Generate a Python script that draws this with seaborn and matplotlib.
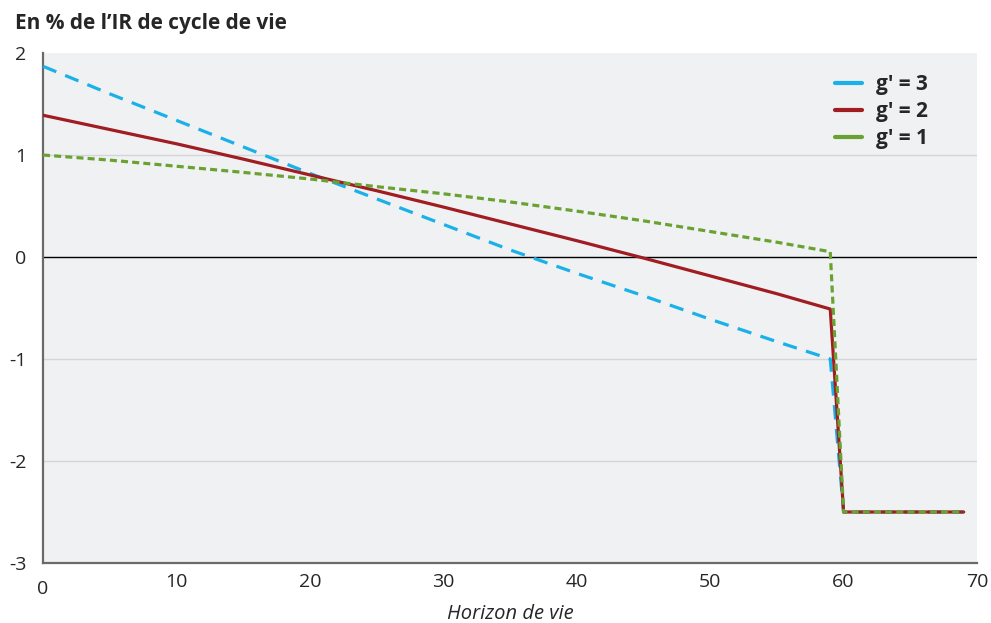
import numpy as np
import pandas as pd
import matplotlib
matplotlib.use("Agg")
import matplotlib.pyplot as plt
from matplotlib.lines import Line2D
import seaborn as sns

# valeurs
horizon = [0, 5, 10, 15, 20, 25, 30, 35, 40, 45, 50, 55, 59, 60, 69]
g3 = [1.87, 1.60, 1.34, 1.08, 0.82, 0.57, 0.32, 0.07, -0.16, -0.38, -0.61, -0.83, -1.0, -2.5, -2.5]
g2 = [1.39, 1.25, 1.11, 0.96, 0.805, 0.65, 0.49, 0.325, 0.16, -0.01, -0.185, -0.36, -0.51, -2.5, -2.5]
g1 = [1.0, 0.95, 0.89, 0.83, 0.765, 0.69, 0.62, 0.54, 0.45, 0.355, 0.25, 0.145, 0.052, -2.5, -2.5]
labels = ["g' = 3", "g' = 2", "g' = 1"]
couleurs = ["#1ab0e8", "#a01d22", "#6aa232"]

df = pd.concat([
    pd.DataFrame({"horizon": horizon, "val": v, "serie": lab})
    for v, lab in zip([g3, g2, g1], labels)
])

sns.set_style("white")
plt.rcParams["font.family"] = ["Open Sans", "DejaVu Sans"]

fig = plt.figure(figsize=(9.91, 6.23), dpi=100)
ax = fig.add_axes([0.0434, 0.0963, 0.9425, 0.8186])
ax.set_facecolor("#f0f1f3")

for y in [1, -1, -2]:
    ax.axhline(y, color="#d4d5d8", lw=1, zorder=0)
ax.axhline(0, color="black", lw=1, zorder=1)

sns.lineplot(data=df, x="horizon", y="val", hue="serie", style="serie",
             palette=dict(zip(labels, couleurs)),
             dashes={labels[0]: (4.5, 3), labels[1]: "", labels[2]: (2.2, 1.3)},
             lw=2.3, ax=ax, legend=False, zorder=3)

ax.set_xlim(0, 70)
ax.set_ylim(-3, 2)
ax.set_xticks(range(0, 71, 10))
ax.set_yticks(range(-3, 3))
ax.set_xticklabels([str(v) for v in range(0, 71, 10)], fontsize=14)
ax.set_yticklabels([str(v) for v in range(-3, 3)], fontsize=14)
ax.get_xticklabels()[0].set_y(-0.015)
ax.tick_params(axis="x", length=5, color="#999999", pad=2)
ax.tick_params(axis="y", length=0, pad=12)

for s in ["top", "right"]:
    ax.spines[s].set_visible(False)
for s in ["left", "bottom"]:
    ax.spines[s].set_color("#6a6a6a")
    ax.spines[s].set_linewidth(1.6)

ax.set_xlabel("Horizon de vie", fontsize=14.5, style="italic", labelpad=4)
ax.set_ylabel("")
fig.text(0.015, 0.962, "En % de l\u2019IR de cycle de vie", fontsize=15,
         fontweight="bold", va="center", ha="left")

handles = [Line2D([0], [0], color=c, lw=3) for c in couleurs]
leg = ax.legend(handles, labels, loc="upper right", bbox_to_anchor=(0.968, 0.996),
                frameon=False, handlelength=1.3, handletextpad=0.7,
                labelspacing=0.3, prop={"size": 15, "weight": "bold"})

fig.savefig("out.png", dpi=100)
